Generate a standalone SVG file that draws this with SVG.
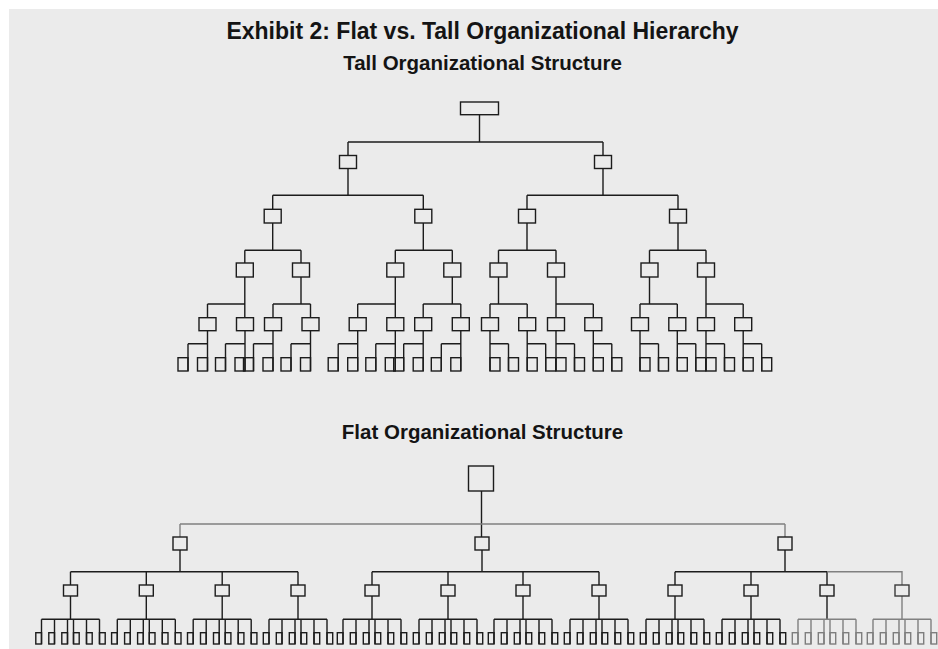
<svg xmlns="http://www.w3.org/2000/svg" width="938" height="649" viewBox="0 0 938 649">
<style>
text{font-family:"Liberation Sans",Arial,sans-serif;font-weight:bold;fill:#141414;text-anchor:middle}
.b{fill:none;stroke:#1c1c1c;stroke-width:1.4}
.gb{fill:none;stroke:#7e7e7e;stroke-width:1.4}
.c{fill:none;stroke:#1c1c1c;stroke-width:1.4}
.gc{fill:none;stroke:#808080;stroke-width:1.4}
</style>
<rect x="9" y="9" width="929" height="640" fill="#ebebeb"/>
<text x="482.5" y="38.7" font-size="23">Exhibit 2: Flat vs. Tall Organizational Hierarchy</text>
<text x="482.5" y="70" font-size="20.5">Tall Organizational Structure</text>
<text x="482.5" y="439" font-size="20.5">Flat Organizational Structure</text>

<g id="connectors">
<path class="c" d="M479.5 114.7V142M348 142H603M348 142V155.5M603 142V155.5
M348 168.5V195.3M272.7 195.3H423.3M272.7 195.3V209.3M423.3 195.3V209.3
M603 168.5V195.3M527 195.3H678M527 195.3V209.3M678 195.3V209.3
M272.7 223V250.3M244.8 250.3H301M244.8 250.3V263M301 250.3V263
M423.3 223V250.3M395.3 250.3H452.3M395.3 250.3V263M452.3 250.3V263
M527 223V250.3M498.5 250.3H556M498.5 250.3V263M556 250.3V263
M678 223V250.3M649.5 250.3H706M649.5 250.3V263M706 250.3V263
M244.8 277V317.7M207.5 304H245M207.5 304V317.7
M301 277V304M273 304H310.5M273 304V317.7M310.5 304V317.7
M395.3 277V317.7M357.7 304H395.3M357.7 304V317.7
M452.3 277V304M423.2 304H460.8M423.2 304V317.7M460.8 304V317.7
M498.5 277V304M490 304H527.2M490 304V317.7M527.2 304V317.7
M556 277V317.7M556 304H593.3M593.3 304V317.7
M649.5 277V304M640 304H677.3M640 304V317.7M677.3 304V317.7
M706 277V317.7M706 304H743.2M743.2 304V317.7
M207.5 330.7V371M188 343.7H207.5M188 343.7V371
M245 330.7V371M225.5 343.7H245M225.5 343.7V371
M273 330.7V371M253.5 343.7H273M253.5 343.7V371
M310.5 330.7V371M291 343.7H310.5M291 343.7V371
M357.7 330.7V371M338.2 343.7H357.7M338.2 343.7V371
M395.3 330.7V371M375.8 343.7H395.3M375.8 343.7V371
M423.2 330.7V371M403.7 343.7H423.2M403.7 343.7V371
M460.8 330.7V371M441.3 343.7H460.8M441.3 343.7V371
M490 330.7V371M490 343.7H508.5M508.5 343.7V371
M527.2 330.7V371M527.2 343.7H545.7M545.7 343.7V371
M556 330.7V371M556 343.7H574.5M574.5 343.7V371
M593.3 330.7V371M593.3 343.7H611.8M611.8 343.7V371
M640 330.7V371M640 343.7H658.5M658.5 343.7V371
M677.3 330.7V371M677.3 343.7H695.8M695.8 343.7V371
M706 330.7V371M706 343.7H724.5M724.5 343.7V371
M743.2 330.7V371M743.2 343.7H761.7M761.7 343.7V371"/>
<path class="c" d="M481.5 491V537"/>
<path class="gc" d="M180 524H785M180 524V537M785 524V537"/>
<path class="c" d="M180 550V571.7M70.5 571.7H298M70.5 571.7V585M146.3 571.7V585M222.2 571.7V585M298 571.7V585
M482 550V571.7M372 571.7H599M372 571.7V585M448 571.7V585M523 571.7V585M599 571.7V585
M785 550V571.7M675 571.7H827M675 571.7V585M751 571.7V585M827 571.7V585"/>
<path class="gc" d="M827 571.7H902V585"/>
<path class="c" d="M70.5 596V619.3M41.5 619.3H99.5M41.5 619.3V644M54.5 619.3V644M67.5 619.3V644M73.5 619.3V644M86.5 619.3V644M99.5 619.3V644
M146.3 596V619.3M117.3 619.3H175.3M117.3 619.3V644M130.3 619.3V644M143.3 619.3V644M149.3 619.3V644M162.3 619.3V644M175.3 619.3V644
M222.2 596V619.3M193.2 619.3H251.2M193.2 619.3V644M206.2 619.3V644M219.2 619.3V644M225.2 619.3V644M238.2 619.3V644M251.2 619.3V644
M298 596V619.3M269 619.3H327M269 619.3V644M282 619.3V644M295 619.3V644M301 619.3V644M314 619.3V644M327 619.3V644
M372 596V619.3M343 619.3H401M343 619.3V644M356 619.3V644M369 619.3V644M375 619.3V644M388 619.3V644M401 619.3V644
M448 596V619.3M419 619.3H477M419 619.3V644M432 619.3V644M445 619.3V644M451 619.3V644M464 619.3V644M477 619.3V644
M523 596V619.3M494 619.3H552M494 619.3V644M507 619.3V644M520 619.3V644M526 619.3V644M539 619.3V644M552 619.3V644
M599 596V619.3M570 619.3H628M570 619.3V644M583 619.3V644M596 619.3V644M602 619.3V644M615 619.3V644M628 619.3V644
M675 596V619.3M646 619.3H704M646 619.3V644M659 619.3V644M672 619.3V644M678 619.3V644M691 619.3V644M704 619.3V644
M751 596V619.3M722 619.3H780M722 619.3V644M735 619.3V644M748 619.3V644M754 619.3V644M767 619.3V644M780 619.3V644
M827 596V619.3"/>
<path class="gc" d="M798 619.3H856M798 619.3V644M811 619.3V644M824 619.3V644M830 619.3V644M843 619.3V644M856 619.3V644
M902 596V619.3M873 619.3H931M873 619.3V644M886 619.3V644M899 619.3V644M905 619.3V644M918 619.3V644M931 619.3V644"/>
</g>

<g id="tall-root"><rect class="b" x="460.5" y="102" width="38" height="12.7"/></g>
<g id="tall-1a"><rect class="b" x="339.5" y="155.5" width="17" height="13"/></g>
<g id="tall-1b"><rect class="b" x="594.5" y="155.5" width="17" height="13"/></g>
<g id="tall-2a"><rect class="b" x="264.2" y="209.3" width="17" height="13.7"/></g>
<g id="tall-2b"><rect class="b" x="414.8" y="209.3" width="17" height="13.7"/></g>
<g id="tall-2c"><rect class="b" x="518.5" y="209.3" width="17" height="13.7"/></g>
<g id="tall-2d"><rect class="b" x="669.5" y="209.3" width="17" height="13.7"/></g>
<g id="tall-3a"><rect class="b" x="236.3" y="263" width="17" height="14"/></g>
<g id="tall-3b"><rect class="b" x="292.5" y="263" width="17" height="14"/></g>
<g id="tall-3c"><rect class="b" x="386.8" y="263" width="17" height="14"/></g>
<g id="tall-3d"><rect class="b" x="443.8" y="263" width="17" height="14"/></g>
<g id="tall-3e"><rect class="b" x="490" y="263" width="17" height="14"/></g>
<g id="tall-3f"><rect class="b" x="547.5" y="263" width="17" height="14"/></g>
<g id="tall-3g"><rect class="b" x="641" y="263" width="17" height="14"/></g>
<g id="tall-3h"><rect class="b" x="697.5" y="263" width="17" height="14"/></g>
<g id="tall-4a"><rect class="b" x="199" y="317.7" width="17" height="13"/></g>
<g id="tall-4b"><rect class="b" x="236.5" y="317.7" width="17" height="13"/></g>
<g id="tall-4c"><rect class="b" x="264.5" y="317.7" width="17" height="13"/></g>
<g id="tall-4d"><rect class="b" x="302" y="317.7" width="17" height="13"/></g>
<g id="tall-4e"><rect class="b" x="349.2" y="317.7" width="17" height="13"/></g>
<g id="tall-4f"><rect class="b" x="386.8" y="317.7" width="17" height="13"/></g>
<g id="tall-4g"><rect class="b" x="414.7" y="317.7" width="17" height="13"/></g>
<g id="tall-4h"><rect class="b" x="452.3" y="317.7" width="17" height="13"/></g>
<g id="tall-4i"><rect class="b" x="481.5" y="317.7" width="17" height="13"/></g>
<g id="tall-4j"><rect class="b" x="518.7" y="317.7" width="17" height="13"/></g>
<g id="tall-4k"><rect class="b" x="547.5" y="317.7" width="17" height="13"/></g>
<g id="tall-4l"><rect class="b" x="584.8" y="317.7" width="17" height="13"/></g>
<g id="tall-4m"><rect class="b" x="631.5" y="317.7" width="17" height="13"/></g>
<g id="tall-4n"><rect class="b" x="668.8" y="317.7" width="17" height="13"/></g>
<g id="tall-4o"><rect class="b" x="697.5" y="317.7" width="17" height="13"/></g>
<g id="tall-4p"><rect class="b" x="734.7" y="317.7" width="17" height="13"/></g>
<g id="tall-5-01"><rect class="b" x="178" y="357.7" width="10" height="13.3"/></g>
<g id="tall-5-02"><rect class="b" x="197.5" y="357.7" width="10" height="13.3"/></g>
<g id="tall-5-03"><rect class="b" x="215.5" y="357.7" width="10" height="13.3"/></g>
<g id="tall-5-04"><rect class="b" x="235" y="357.7" width="10" height="13.3"/></g>
<g id="tall-5-05"><rect class="b" x="243.5" y="357.7" width="10" height="13.3"/></g>
<g id="tall-5-06"><rect class="b" x="263" y="357.7" width="10" height="13.3"/></g>
<g id="tall-5-07"><rect class="b" x="281" y="357.7" width="10" height="13.3"/></g>
<g id="tall-5-08"><rect class="b" x="300.5" y="357.7" width="10" height="13.3"/></g>
<g id="tall-5-09"><rect class="b" x="328.2" y="357.7" width="10" height="13.3"/></g>
<g id="tall-5-10"><rect class="b" x="347.7" y="357.7" width="10" height="13.3"/></g>
<g id="tall-5-11"><rect class="b" x="365.8" y="357.7" width="10" height="13.3"/></g>
<g id="tall-5-12"><rect class="b" x="385.3" y="357.7" width="10" height="13.3"/></g>
<g id="tall-5-13"><rect class="b" x="393.7" y="357.7" width="10" height="13.3"/></g>
<g id="tall-5-14"><rect class="b" x="413.2" y="357.7" width="10" height="13.3"/></g>
<g id="tall-5-15"><rect class="b" x="431.3" y="357.7" width="10" height="13.3"/></g>
<g id="tall-5-16"><rect class="b" x="450.8" y="357.7" width="10" height="13.3"/></g>
<g id="tall-5-17"><rect class="b" x="490" y="357.7" width="10" height="13.3"/></g>
<g id="tall-5-18"><rect class="b" x="508.5" y="357.7" width="10" height="13.3"/></g>
<g id="tall-5-19"><rect class="b" x="527.2" y="357.7" width="10" height="13.3"/></g>
<g id="tall-5-20"><rect class="b" x="545.7" y="357.7" width="10" height="13.3"/></g>
<g id="tall-5-21"><rect class="b" x="556" y="357.7" width="10" height="13.3"/></g>
<g id="tall-5-22"><rect class="b" x="574.5" y="357.7" width="10" height="13.3"/></g>
<g id="tall-5-23"><rect class="b" x="593.3" y="357.7" width="10" height="13.3"/></g>
<g id="tall-5-24"><rect class="b" x="611.8" y="357.7" width="10" height="13.3"/></g>
<g id="tall-5-25"><rect class="b" x="640" y="357.7" width="10" height="13.3"/></g>
<g id="tall-5-26"><rect class="b" x="658.5" y="357.7" width="10" height="13.3"/></g>
<g id="tall-5-27"><rect class="b" x="677.3" y="357.7" width="10" height="13.3"/></g>
<g id="tall-5-28"><rect class="b" x="695.8" y="357.7" width="10" height="13.3"/></g>
<g id="tall-5-29"><rect class="b" x="706" y="357.7" width="10" height="13.3"/></g>
<g id="tall-5-30"><rect class="b" x="724.5" y="357.7" width="10" height="13.3"/></g>
<g id="tall-5-31"><rect class="b" x="743.2" y="357.7" width="10" height="13.3"/></g>
<g id="tall-5-32"><rect class="b" x="761.7" y="357.7" width="10" height="13.3"/></g>

<g id="flat-root"><rect class="b" x="468.5" y="466" width="25" height="25"/></g>
<g id="flat-1a"><rect class="b" x="173" y="537" width="14" height="13"/></g>
<g id="flat-1b"><rect class="b" x="475" y="537" width="14" height="13"/></g>
<g id="flat-1c"><rect class="b" x="778" y="537" width="14" height="13"/></g>
<g id="flat-2a"><rect class="b" x="63.5" y="585" width="14" height="11"/></g>
<g id="flat-2b"><rect class="b" x="139.3" y="585" width="14" height="11"/></g>
<g id="flat-2c"><rect class="b" x="215.2" y="585" width="14" height="11"/></g>
<g id="flat-2d"><rect class="b" x="291" y="585" width="14" height="11"/></g>
<g id="flat-2e"><rect class="b" x="365" y="585" width="14" height="11"/></g>
<g id="flat-2f"><rect class="b" x="441" y="585" width="14" height="11"/></g>
<g id="flat-2g"><rect class="b" x="516" y="585" width="14" height="11"/></g>
<g id="flat-2h"><rect class="b" x="592" y="585" width="14" height="11"/></g>
<g id="flat-2i"><rect class="b" x="668" y="585" width="14" height="11"/></g>
<g id="flat-2j"><rect class="b" x="744" y="585" width="14" height="11"/></g>
<g id="flat-2k"><rect class="b" x="820" y="585" width="14" height="11"/></g>
<g id="flat-2l"><rect class="b" x="895" y="585" width="14" height="11" style="stroke:#3a3a3a"/></g>

<g id="flat-3-01"><rect class="b" x="35.8" y="632.7" width="5.7" height="11.3"/></g>
<g id="flat-3-02"><rect class="b" x="48.8" y="632.7" width="5.7" height="11.3"/></g>
<g id="flat-3-03"><rect class="b" x="61.8" y="632.7" width="5.7" height="11.3"/></g>
<g id="flat-3-04"><rect class="b" x="73.5" y="632.7" width="5.7" height="11.3"/></g>
<g id="flat-3-05"><rect class="b" x="86.5" y="632.7" width="5.7" height="11.3"/></g>
<g id="flat-3-06"><rect class="b" x="99.5" y="632.7" width="5.7" height="11.3"/></g>
<g id="flat-3-07"><rect class="b" x="111.6" y="632.7" width="5.7" height="11.3"/></g>
<g id="flat-3-08"><rect class="b" x="124.6" y="632.7" width="5.7" height="11.3"/></g>
<g id="flat-3-09"><rect class="b" x="137.6" y="632.7" width="5.7" height="11.3"/></g>
<g id="flat-3-10"><rect class="b" x="149.3" y="632.7" width="5.7" height="11.3"/></g>
<g id="flat-3-11"><rect class="b" x="162.3" y="632.7" width="5.7" height="11.3"/></g>
<g id="flat-3-12"><rect class="b" x="175.3" y="632.7" width="5.7" height="11.3"/></g>
<g id="flat-3-13"><rect class="b" x="187.5" y="632.7" width="5.7" height="11.3"/></g>
<g id="flat-3-14"><rect class="b" x="200.5" y="632.7" width="5.7" height="11.3"/></g>
<g id="flat-3-15"><rect class="b" x="213.5" y="632.7" width="5.7" height="11.3"/></g>
<g id="flat-3-16"><rect class="b" x="225.2" y="632.7" width="5.7" height="11.3"/></g>
<g id="flat-3-17"><rect class="b" x="238.2" y="632.7" width="5.7" height="11.3"/></g>
<g id="flat-3-18"><rect class="b" x="251.2" y="632.7" width="5.7" height="11.3"/></g>
<g id="flat-3-19"><rect class="b" x="263.3" y="632.7" width="5.7" height="11.3"/></g>
<g id="flat-3-20"><rect class="b" x="276.3" y="632.7" width="5.7" height="11.3"/></g>
<g id="flat-3-21"><rect class="b" x="289.3" y="632.7" width="5.7" height="11.3"/></g>
<g id="flat-3-22"><rect class="b" x="301" y="632.7" width="5.7" height="11.3"/></g>
<g id="flat-3-23"><rect class="b" x="314" y="632.7" width="5.7" height="11.3"/></g>
<g id="flat-3-24"><rect class="b" x="327" y="632.7" width="5.7" height="11.3"/></g>
<g id="flat-3-25"><rect class="b" x="337.3" y="632.7" width="5.7" height="11.3"/></g>
<g id="flat-3-26"><rect class="b" x="350.3" y="632.7" width="5.7" height="11.3"/></g>
<g id="flat-3-27"><rect class="b" x="363.3" y="632.7" width="5.7" height="11.3"/></g>
<g id="flat-3-28"><rect class="b" x="375" y="632.7" width="5.7" height="11.3"/></g>
<g id="flat-3-29"><rect class="b" x="388" y="632.7" width="5.7" height="11.3"/></g>
<g id="flat-3-30"><rect class="b" x="401" y="632.7" width="5.7" height="11.3"/></g>
<g id="flat-3-31"><rect class="b" x="413.3" y="632.7" width="5.7" height="11.3"/></g>
<g id="flat-3-32"><rect class="b" x="426.3" y="632.7" width="5.7" height="11.3"/></g>
<g id="flat-3-33"><rect class="b" x="439.3" y="632.7" width="5.7" height="11.3"/></g>
<g id="flat-3-34"><rect class="b" x="451" y="632.7" width="5.7" height="11.3"/></g>
<g id="flat-3-35"><rect class="b" x="464" y="632.7" width="5.7" height="11.3"/></g>
<g id="flat-3-36"><rect class="b" x="477" y="632.7" width="5.7" height="11.3"/></g>
<g id="flat-3-37"><rect class="b" x="488.3" y="632.7" width="5.7" height="11.3"/></g>
<g id="flat-3-38"><rect class="b" x="501.3" y="632.7" width="5.7" height="11.3"/></g>
<g id="flat-3-39"><rect class="b" x="514.3" y="632.7" width="5.7" height="11.3"/></g>
<g id="flat-3-40"><rect class="b" x="526" y="632.7" width="5.7" height="11.3"/></g>
<g id="flat-3-41"><rect class="b" x="539" y="632.7" width="5.7" height="11.3"/></g>
<g id="flat-3-42"><rect class="b" x="552" y="632.7" width="5.7" height="11.3"/></g>
<g id="flat-3-43"><rect class="b" x="564.3" y="632.7" width="5.7" height="11.3"/></g>
<g id="flat-3-44"><rect class="b" x="577.3" y="632.7" width="5.7" height="11.3"/></g>
<g id="flat-3-45"><rect class="b" x="590.3" y="632.7" width="5.7" height="11.3"/></g>
<g id="flat-3-46"><rect class="b" x="602" y="632.7" width="5.7" height="11.3"/></g>
<g id="flat-3-47"><rect class="b" x="615" y="632.7" width="5.7" height="11.3"/></g>
<g id="flat-3-48"><rect class="b" x="628" y="632.7" width="5.7" height="11.3"/></g>
<g id="flat-3-49"><rect class="b" x="640.3" y="632.7" width="5.7" height="11.3"/></g>
<g id="flat-3-50"><rect class="b" x="653.3" y="632.7" width="5.7" height="11.3"/></g>
<g id="flat-3-51"><rect class="b" x="666.3" y="632.7" width="5.7" height="11.3"/></g>
<g id="flat-3-52"><rect class="b" x="678" y="632.7" width="5.7" height="11.3"/></g>
<g id="flat-3-53"><rect class="b" x="691" y="632.7" width="5.7" height="11.3"/></g>
<g id="flat-3-54"><rect class="b" x="704" y="632.7" width="5.7" height="11.3"/></g>
<g id="flat-3-55"><rect class="b" x="716.3" y="632.7" width="5.7" height="11.3"/></g>
<g id="flat-3-56"><rect class="b" x="729.3" y="632.7" width="5.7" height="11.3"/></g>
<g id="flat-3-57"><rect class="b" x="742.3" y="632.7" width="5.7" height="11.3"/></g>
<g id="flat-3-58"><rect class="b" x="754" y="632.7" width="5.7" height="11.3"/></g>
<g id="flat-3-59"><rect class="b" x="767" y="632.7" width="5.7" height="11.3"/></g>
<g id="flat-3-60"><rect class="b" x="780" y="632.7" width="5.7" height="11.3"/></g>
<g id="flat-3-61"><rect class="gb" x="792.3" y="632.7" width="5.7" height="11.3"/></g>
<g id="flat-3-62"><rect class="gb" x="805.3" y="632.7" width="5.7" height="11.3"/></g>
<g id="flat-3-63"><rect class="gb" x="818.3" y="632.7" width="5.7" height="11.3"/></g>
<g id="flat-3-64"><rect class="gb" x="830" y="632.7" width="5.7" height="11.3"/></g>
<g id="flat-3-65"><rect class="gb" x="843" y="632.7" width="5.7" height="11.3"/></g>
<g id="flat-3-66"><rect class="gb" x="856" y="632.7" width="5.7" height="11.3"/></g>
<g id="flat-3-67"><rect class="gb" x="867.3" y="632.7" width="5.7" height="11.3"/></g>
<g id="flat-3-68"><rect class="gb" x="880.3" y="632.7" width="5.7" height="11.3"/></g>
<g id="flat-3-69"><rect class="gb" x="893.3" y="632.7" width="5.7" height="11.3"/></g>
<g id="flat-3-70"><rect class="gb" x="905" y="632.7" width="5.7" height="11.3"/></g>
<g id="flat-3-71"><rect class="gb" x="918" y="632.7" width="5.7" height="11.3"/></g>
<g id="flat-3-72"><rect class="gb" x="931" y="632.7" width="5.7" height="11.3"/></g>
</svg>
